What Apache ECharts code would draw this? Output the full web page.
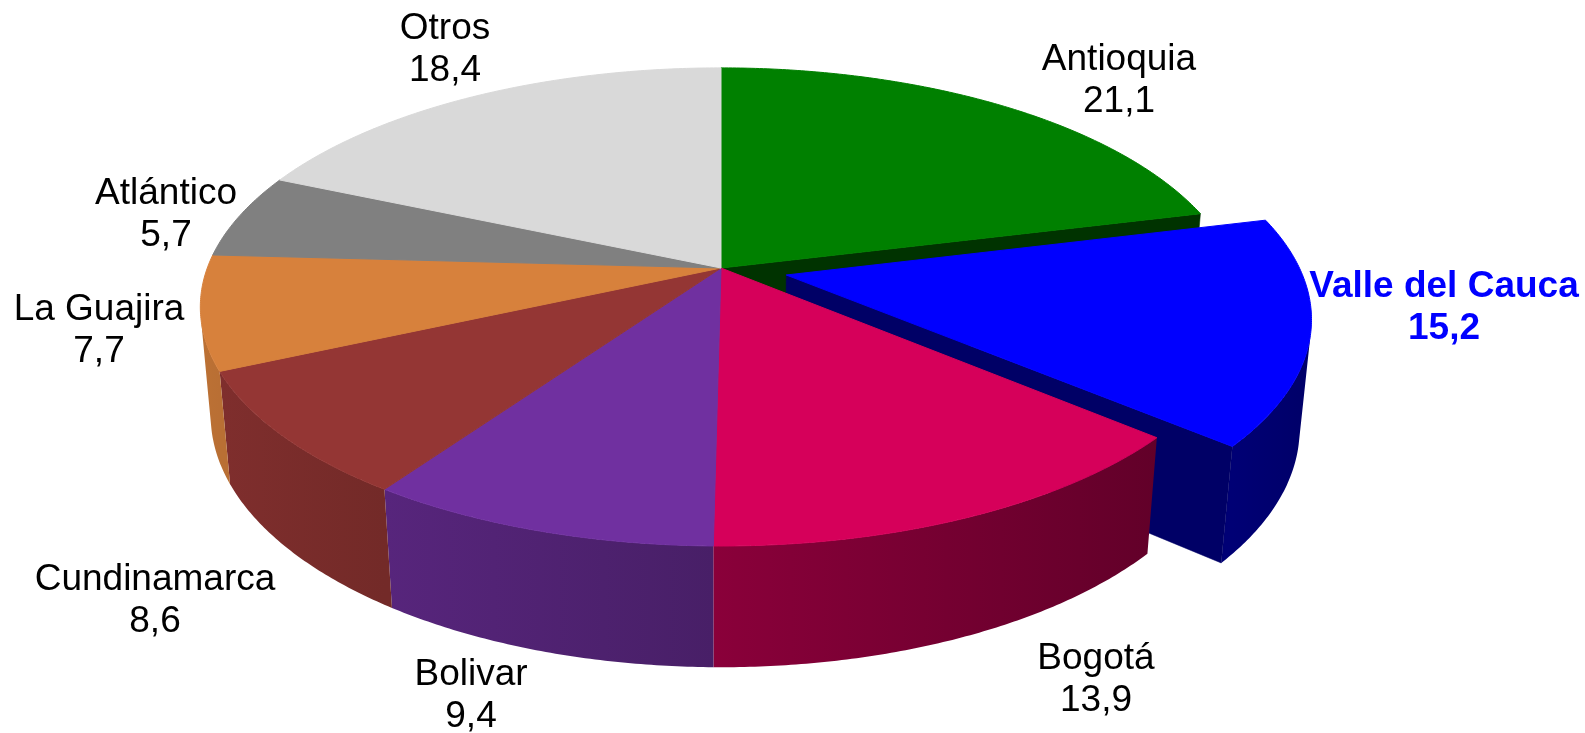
<!DOCTYPE html>
<html>
<head>
<meta charset="utf-8">
<script src="https://cdn.jsdelivr.net/npm/echarts@6/dist/echarts.min.js"></script>
<style>
html, body { margin: 0; padding: 0; background: #fff; }
#main { width: 1585px; height: 733px; }
</style>
</head>
<body>
<div id="main"></div>
<script>
// data
var regions = ['Antioquia', 'Valle del Cauca', 'Bogotá', 'Bolivar', 'Cundinamarca', 'La Guajira', 'Atlántico', 'Otros'];
var shares = [21.1, 15.2, 13.9, 9.4, 8.6, 7.7, 5.7, 18.4];

// look
var colors = ['#008000', '#0000ff', '#d6005a', '#7030a0', '#943634', '#d7813c', '#808080', '#d9d9d9'];
var labelAt = [[1119, 81], [1444, 308], [1096, 680], [471, 696], [155, 601], [99, 331], [166, 215], [445, 50]];
var exploded = 1;

// perspective of the 3d disc (radius 1)
var cx = 721, cy = 268, focal = 2810, dist = 5.47;
var tiltS = 0.453, tiltC = 0.891, thick = 0.239, pull = 0.13;

var total = 0;
shares.forEach(function (v) { total += v; });

function proj(u, v, h) {
    var zc = dist + v * tiltC - h * tiltS;
    var yc = v * tiltS + h * tiltC;
    return [cx + focal * u / zc, cy - focal * yc / zc];
}

function shade(hex, k) {
    var n = parseInt(hex.slice(1), 16);
    var r = Math.round(((n >> 16) & 255) * k);
    var g = Math.round(((n >> 8) & 255) * k);
    var b = Math.round((n & 255) * k);
    return 'rgb(' + r + ',' + g + ',' + b + ')';
}

function wallK(a) {
    return 0.64 - 0.24 * Math.sin(a);
}

function renderSlice(params, api) {
    var i = params.dataIndex;
    var val = api.value(0);
    var before = 0;
    for (var j = 0; j < i; j++) before += shares[j];
    var a0 = before / total * Math.PI * 2;
    var a1 = (before + val) / total * Math.PI * 2;
    var mid = (a0 + a1) / 2;
    var off = i === exploded ? pull : 0;
    var ou = off * Math.sin(mid), ov = off * Math.cos(mid);
    var n = shares.length;
    var col = colors[i];

    function rim(a, h) { return proj(ou + Math.sin(a), ov + Math.cos(a), h); }
    function ctr(h) { return proj(ou, ov, h); }
    // camera sits at (0, dist*tiltS, -dist*tiltC)
    function wallVisible(a) {
        return -(ou * Math.sin(a) + ov * Math.cos(a)) - 1 - dist * tiltC * Math.cos(a) > 0;
    }

    var children = [];
    var step = Math.PI / 360;
    var steps = Math.max(2, Math.ceil((a1 - a0) / step));

    // top face
    var top = [ctr(0)];
    for (var s = 0; s <= steps; s++) top.push(rim(a0 + (a1 - a0) * s / steps, 0));
    children.push({
        type: 'polygon', z2: 40,
        shape: { points: top },
        style: { fill: col, stroke: col, lineWidth: 1 }
    });

    // outer wall, only the part that faces the camera
    var runs = [], cur = null;
    for (s = 0; s <= steps; s++) {
        var a = a0 + (a1 - a0) * s / steps;
        if (wallVisible(a)) {
            if (!cur) { cur = []; runs.push(cur); }
            cur.push(a);
        } else {
            cur = null;
        }
    }
    runs.forEach(function (run) {
        if (run.length < 2) return;
        var pts = [];
        run.forEach(function (a) { pts.push(rim(a, 0)); });
        for (var k = run.length - 1; k >= 0; k--) pts.push(rim(run[k], -thick));
        var aS = run[0], aE = run[run.length - 1];
        var xS = rim(aS, 0)[0], xE = rim(aE, 0)[0];
        children.push({
            type: 'polygon', z2: i === exploded ? 20 : 30,
            shape: { points: pts },
            style: {
                fill: {
                    type: 'linear', global: true,
                    x: xS, y: 0, x2: xE === xS ? xS + 1 : xE, y2: 0,
                    colorStops: [
                        { offset: 0, color: shade(col, wallK(aS)) },
                        { offset: 1, color: shade(col, wallK(aE)) }
                    ]
                },
                stroke: null
            }
        });
    });

    // cut faces next to the pulled-out slice
    function face(a, nu, nv) {
        var dot = -ou * nu + (-dist * tiltC - ov) * nv;
        if (dot <= 0) return;
        children.push({
            type: 'polygon', z2: i === exploded ? 20 : 10,
            shape: { points: [ctr(0), rim(a, 0), rim(a, -thick), ctr(-thick)] },
            style: { fill: shade(col, 0.4), stroke: shade(col, 0.4), lineWidth: 0.5 }
        });
    }
    if (i === exploded || (i - 1 + n) % n === exploded) face(a0, -Math.cos(a0), Math.sin(a0));
    if (i === exploded || (i + 1) % n === exploded) face(a1, Math.cos(a1), -Math.sin(a1));

    // label
    children.push({
        type: 'text', z2: 50,
        x: labelAt[i][0], y: labelAt[i][1],
        style: {
            text: regions[i] + '\n' + val.toFixed(1).replace('.', ','),
            fill: i === exploded ? '#0000ff' : '#000000',
            fontFamily: '"Liberation Sans", Arial, sans-serif',
            fontSize: 37,
            fontWeight: i === exploded ? 'bold' : 'normal',
            align: 'center',
            verticalAlign: 'middle',
            lineHeight: 42
        }
    });

    return { type: 'group', children: children };
}

var myChart = echarts.init(document.getElementById('main'));
var option = {
    animation: false,
    backgroundColor: '#ffffff',
    series: [
        {
            type: 'custom',
            coordinateSystem: 'none',
            renderItem: renderSlice,
            data: shares.map(function (v, k) { return { name: regions[k], value: [v] }; })
        }
    ]
};
myChart.setOption(option);
</script>
</body>
</html>
